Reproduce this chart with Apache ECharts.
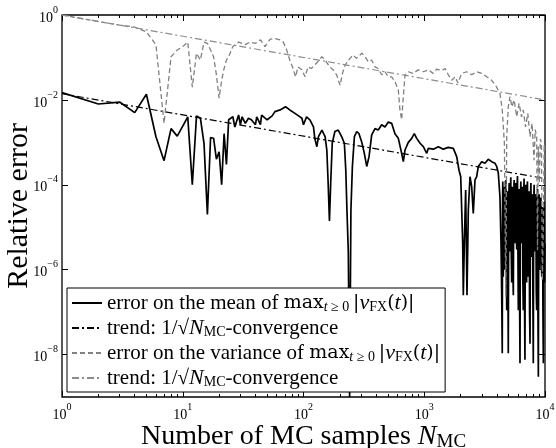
<!DOCTYPE html>
<html>
<head>
<meta charset="utf-8">
<script src="https://cdn.jsdelivr.net/npm/echarts@6/dist/echarts.min.js"></script>
<style>
html, body { margin: 0; padding: 0; background: #fff; }
#chart { width: 556px; height: 448px; }
</style>
</head>
<body>
<div id="chart"></div>
<script>
// error on the mean
var nMean = [1, 2, 3, 4, 5, 6, 7, 8, 9, 10, 11, 12, 13, 14, 15, 16, 17, 18, 19, 20, 21, 22, 23, 24, 26, 27, 29, 30, 31, 33,
	35, 37, 40, 41, 44, 45, 50, 55, 58, 64, 71, 77, 85, 91, 97, 100, 106, 113, 121, 124, 129, 133, 142, 151, 156, 160, 164, 168, 173, 182,
	194, 207, 218, 224, 229, 235, 241, 247, 254, 264, 276, 288, 304, 319, 334, 349, 367, 391, 416, 444, 473, 504, 537, 572, 610, 650, 671, 693, 738, 787,
	827, 866, 923, 983, 1048, 1081, 1189, 1308, 1438, 1582, 1740, 1857, 1941, 2005, 2043, 2082, 2106, 2147, 2203, 2259, 2317, 2393, 2471, 2547, 2632, 2718, 2803, 2992, 3186, 3391,
	3619, 3853, 3980, 4104, 4236, 4322, 4378];
var errMean = [0.0148, 0.0080, 0.0089, 0.0050, 0.0136, 0.00135, 0.00037, 0.0021, 0.0014, 0.0024, 0.0040, 0.00010, 0.0042, 0.0037, 0.00095, 0.000020, 0.0013, 0.00125, 0.00040, 0.00060, 0.00010, 0.0016, 0.00030, 0.0034, 0.0040, 0.0023, 0.0044, 0.0026, 0.0040, 0.0028,
	0.0037, 0.0034, 0.0026, 0.0040, 0.0026, 0.0044, 0.0034, 0.0042, 0.0053, 0.0058, 0.0069, 0.0058, 0.0048, 0.0042, 0.0037, 0.0026, 0.0040, 0.0034, 0.0023, 0.00124, 0.00079, 0.00136, 0.00195, 0.00136, 0.00066, 0.00011, 0.000014, 0.00011, 0.00095, 0.0018,
	0.00195, 0.00136, 0.00095, 0.00022, 0.000025, 0.0000027, 1e-9, 0.000025, 0.00027, 0.00136, 0.0018, 0.0016, 0.0010, 0.00055, 0.00027, 0.00046, 0.0015, 0.0021, 0.00195, 0.0026, 0.0023, 0.0030, 0.0028, 0.0016, 0.00124, 0.00055, 0.00035, 0.00066, 0.0010, 0.00124,
	0.0016, 0.00124, 0.00095, 0.00079, 0.00055, 0.00072, 0.00069, 0.00079, 0.00069, 0.00076, 0.00072, 0.00046, 0.00022, 0.000155, 0.000025, 0.0000042, 0.00000025, 0.0000042, 0.000075, 0.00000025, 0.000025, 0.000155, 0.00009, 0.000021, 0.00013, 0.000155, 0.00027, 0.00035, 0.00032, 0.00040,
	0.00035, 0.00032, 0.00027, 0.00019, 0.000052, 0.0000042, 0.00000028];

// the dense, noisy end of the mean error
var nMeanTail = [4427, 4450, 4470, 4490, 4515, 4550, 4590, 4625, 4664, 4700,
	4740, 4780, 4818, 4850, 4890, 4930, 4966, 5010, 5050, 5090,
	5130, 5170, 5210, 5250, 5297, 5340, 5380, 5420, 5466, 5510,
	5550, 5600, 5645, 5690, 5740, 5785, 5830, 5875, 5920, 5965,
	6012, 6060, 6110, 6160, 6209, 6260, 6310, 6360, 6413, 6460,
	6510, 6560, 6610, 6660, 6710, 6765, 6823, 6875, 6930, 6990,
	7046, 7100, 7160, 7215, 7274, 7330, 7390, 7450, 7516, 7580,
	7640, 7700, 7762, 7820, 7880, 7940, 8000, 8065, 8130, 8195,
	8262, 8330, 8400, 8465, 8531, 8600, 8670, 8740, 8810, 8880,
	8950, 9025, 9100, 9175, 9250, 9325, 9400, 9470, 9540, 9615,
	9690, 9770, 9850, 9925, 10000];
var errMeanTail = [1.07e-8, 3e-5, 1.2e-4, 2e-6, 6.8e-7, 4e-5, 9e-5, 1e-6, 3e-6, 6e-5,
	1.3e-4, 4e-6, 1.1e-7, 2e-5, 7e-5, 8e-7, 1.07e-8, 5e-5, 1.1e-4, 5e-6,
	2.7e-6, 8e-5, 1.5e-4, 3e-6, 5e-7, 3e-5, 9e-5, 1e-6, 2.5e-7, 6e-5,
	1.3e-4, 2e-5, 4.2e-6, 9e-5, 1.1e-4, 8e-6, 3e-6, 1e-4, 1.6e-4, 3e-6,
	1.1e-7, 4e-5, 8e-5, 2e-7, 6.2e-9, 5e-5, 1.2e-4, 1e-5, 4.2e-6, 7e-5,
	9e-5, 5e-7, 1.1e-7, 6e-5, 1.4e-4, 2e-7, 7.5e-9, 4e-5, 1.0e-4, 3e-6,
	5e-7, 8e-5, 1.2e-4, 1e-6, 6.8e-7, 5e-5, 7e-5, 1e-7, 1.8e-8, 5e-5,
	1.1e-4, 1e-5, 2e-6, 5e-5, 6e-5, 2e-7, 6.2e-9, 4e-5, 1.0e-4, 5e-6,
	2.7e-6, 6e-5, 5e-5, 3e-7, 1.1e-7, 3e-5, 8e-5, 1e-7, 3.0e-9, 3e-5,
	6e-5, 1e-6, 4e-6, 4e-5, 5e-5, 2e-6, 6.8e-7, 2e-5, 3e-5, 1e-7,
	6.2e-9, 2e-5, 4e-5, 5e-7, 4.2e-6];

// error on the variance
var nVar = [1, 2, 3, 4, 5, 6, 7, 8, 9, 10, 11, 12, 13, 14, 15, 16, 17, 18, 19, 20, 21, 22, 23, 24, 26, 29, 33, 36, 40, 44,
	48, 53, 58, 64, 68, 72, 77, 82, 86, 90, 97, 103, 109, 116, 128, 142, 151, 165, 176, 188, 201, 210, 221, 242, 258, 274, 304, 324, 344, 367,
	391, 416, 444, 473, 504, 537, 572, 610, 629, 650, 671, 693, 738, 811, 890, 983, 1081, 1189, 1266, 1395, 1490, 1582, 1690, 1805, 1900, 2043, 2240, 2471, 2718, 2992,
	3290, 3619, 3980, 4236, 4427, 4610, 4740, 4818, 4966, 5130, 5320, 5550, 5830, 6100, 6390, 6610, 6900, 7200, 7516, 7820, 8110, 8300, 8531, 8670, 8800, 8970, 9150, 9350, 9500, 9690,
	9850, 10000];
var errVar = [1.0, 0.70, 0.58, 0.52, 0.40, 0.20, 0.0028, 0.104, 0.15, 0.18, 0.23, 0.020, 0.125, 0.087, 0.23, 0.215, 0.15, 0.104, 0.039, 0.011, 0.029, 0.055, 0.087, 0.104, 0.18, 0.23, 0.20, 0.23, 0.215, 0.26,
	0.18, 0.27, 0.28, 0.26, 0.23, 0.16, 0.087, 0.055, 0.035, 0.060, 0.051, 0.035, 0.060, 0.055, 0.073, 0.104, 0.087, 0.060, 0.051, 0.039, 0.022, 0.042, 0.066, 0.095, 0.114, 0.095, 0.125, 0.104, 0.079, 0.087,
	0.060, 0.055, 0.039, 0.046, 0.035, 0.035, 0.027, 0.017, 0.0058, 0.0034, 0.012, 0.039, 0.046, 0.042, 0.051, 0.046, 0.051, 0.042, 0.053, 0.049, 0.055, 0.039, 0.029, 0.035, 0.025, 0.042, 0.046, 0.039, 0.046, 0.042,
	0.035, 0.029, 0.020, 0.014, 0.0058, 0.00095, 2.3e-7, 0.00136, 0.0069, 0.012, 0.0069, 0.010, 0.0040, 0.0083, 0.0040, 0.0058, 0.0023, 0.0048, 0.00136, 0.0028, 0.00038, 0.0020, 0.00136, 0.0000029, 0.0008, 0.00011, 0.0012, 0.00095, 5.6e-7, 0.00001,
	0.0009, 0.00055];

// 1/sqrt(N) trends, end points
var nTrend = [1, 10000];
var trendMean = [0.014, 0.00014];
var trendVar = [1, 0.01];

var xMajor = [1, 10, 100, 1000, 10000];
var yMajor = [1e-8, 1e-6, 1e-4, 1e-2, 1];
var xMinor = [];
for (var k = 0; k < 4; k++) {
	for (var m = 2; m <= 9; m++) {
		xMinor.push(m * Math.pow(10, k));
	}
}

var serif = 'Liberation Serif';

function pairs(xs, ys) {
	var out = [];
	for (var i = 0; i < xs.length; i++) {
		out.push([xs[i], ys[i]]);
	}
	return out;
}

function powLabel(v) {
	var e = Math.round(Math.log(v) / Math.LN10);
	return '{b|10}{s|' + String(e).replace('-', '\u2212') + '}';
}

var powRich = {
	b: { fontFamily: serif, fontSize: 14, color: '#000', lineHeight: 20, verticalAlign: 'bottom' },
	s: { fontFamily: serif, fontSize: 10, color: '#000', lineHeight: 10, verticalAlign: 'top' }
};

// legend labels with the math written as rich text
var mathMax = '{m|max}{si|t}{sr| \u2265 0}{m|\u2009|}{i|v}{sr|FX}{m|(}{i|t}{m|)|}';
var mathRate = '{t|trend: 1/\u221A}{i|N}{sr|MC}{t|-convergence}';
var legendText = {
	mean: '{t|error on the mean of }' + mathMax,
	trendMean: mathRate,
	variance: '{t|error on the variance of }' + mathMax,
	trendVar: mathRate
};

var legendRich = {
	t: { fontFamily: serif, fontSize: 21, color: '#000', lineHeight: 22 },
	m: { fontFamily: 'DejaVu Serif', fontSize: 19, color: '#000', lineHeight: 22 },
	i: { fontFamily: serif, fontSize: 22, fontStyle: 'italic', color: '#000', lineHeight: 22 },
	si: { fontFamily: serif, fontSize: 14, fontStyle: 'italic', color: '#000', lineHeight: 14, verticalAlign: 'bottom' },
	sr: { fontFamily: serif, fontSize: 14, color: '#000', lineHeight: 14, verticalAlign: 'bottom' }
};

function logX(position, ticks, len, withLabels) {
	var ax = {
		type: 'log',
		logBase: 10,
		min: 1,
		max: 10000,
		position: position,
		axisLine: { show: false },
		splitLine: { show: false },
		axisTick: { show: true, inside: true, length: len, customValues: ticks, lineStyle: { color: '#000', width: 1 } },
		axisLabel: { show: false }
	};
	if (withLabels) {
		ax.axisLabel = { show: true, customValues: ticks, formatter: powLabel, rich: powRich, margin: 5 };
		ax.name = '{t|Number of MC samples }{i|N}{s|MC}';
		ax.nameLocation = 'middle';
		ax.nameGap = 25;
		ax.nameMoveOverlap = false;
		ax.nameTextStyle = {
			rich: {
				t: { fontFamily: serif, fontSize: 28, color: '#000', lineHeight: 30 },
				i: { fontFamily: serif, fontSize: 28, fontStyle: 'italic', color: '#000', lineHeight: 30 },
				s: { fontFamily: serif, fontSize: 19, color: '#000', lineHeight: 19, verticalAlign: 'bottom' }
			}
		};
	}
	return ax;
}

function logY(position, withLabels) {
	var ax = {
		type: 'log',
		logBase: 10,
		min: 1e-9,
		max: 1,
		position: position,
		axisLine: { show: false },
		splitLine: { show: false },
		axisTick: { show: true, inside: true, length: 6, customValues: yMajor, lineStyle: { color: '#000', width: 1 } },
		axisLabel: { show: false }
	};
	if (withLabels) {
		ax.axisLabel = { show: true, customValues: yMajor, formatter: powLabel, rich: powRich, margin: 4 };
		ax.name = 'Relative error';
		ax.nameLocation = 'middle';
		ax.nameGap = 28;
		ax.nameMoveOverlap = false;
		ax.nameTextStyle = { fontFamily: serif, fontSize: 30, color: '#000' };
	}
	return ax;
}

function lineSeries(name, xs, ys, color, width, dash) {
	return {
		name: name,
		type: 'line',
		data: pairs(xs, ys),
		symbol: 'none',
		showSymbol: false,
		xAxisIndex: 0,
		yAxisIndex: 0,
		lineStyle: { color: color, width: width, type: dash },
		itemStyle: { color: color },
		emphasis: { disabled: true },
		animation: false
	};
}

var chart = echarts.init(document.getElementById('chart'), null, { renderer: 'canvas' });

var option = {
	backgroundColor: '#fff',
	animation: false,
	grid: {
		left: 62,
		right: 11,
		top: 15,
		bottom: 51,
		show: true,
		borderColor: '#000',
		borderWidth: 1.3,
		backgroundColor: 'transparent',
		containLabel: false,
		outerBoundsMode: 'none'
	},
	legend: {
		data: ['mean', 'trendMean', 'variance', 'trendVar'],
		orient: 'vertical',
		left: 67,
		top: 288,
		itemWidth: 30,
		itemHeight: 14,
		itemGap: 3,
		padding: [4, 5, 3, 4],
		backgroundColor: '#fff',
		borderColor: '#000',
		borderWidth: 1,
		borderRadius: 0,
		selectedMode: false,
		itemStyle: { opacity: 0 },
		formatter: function(name) {
			return legendText[name];
		},
		textStyle: { rich: legendRich }
	},
	xAxis: [
		logX('bottom', xMajor, 6, true),
		logX('top', xMajor, 6, false),
		logX('bottom', xMinor, 3, false),
		logX('top', xMinor, 3, false)
	],
	yAxis: [
		logY('left', true),
		logY('right', false)
	],
	series: [
		lineSeries('mean', nMean.concat(nMeanTail), errMean.concat(errMeanTail), '#000', 1.7, 'solid'),
		lineSeries('trendMean', nTrend, trendMean, '#000', 1.2, [7, 3, 2, 3]),
		lineSeries('variance', nVar, errVar, '#808080', 1.3, [5, 3]),
		lineSeries('trendVar', nTrend, trendVar, '#8c8c8c', 1.2, [7, 3, 2, 3])
	]
};

chart.setOption(option);
</script>
</body>
</html>
